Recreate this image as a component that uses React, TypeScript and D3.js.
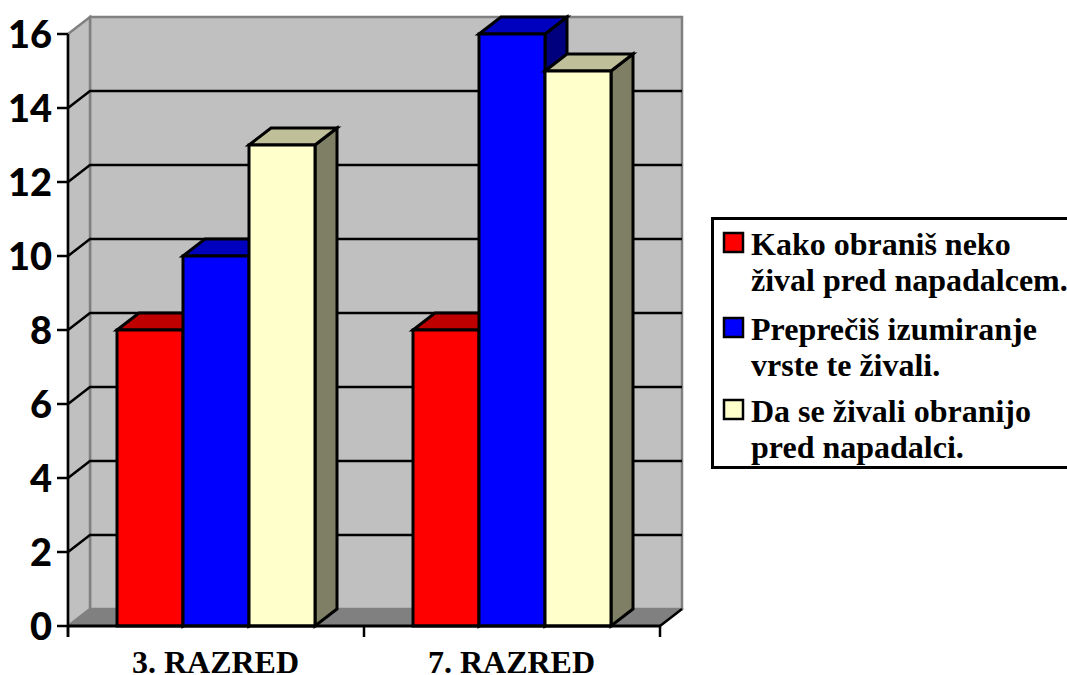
import React from "react";
import * as d3 from "d3";

const categories = ["3. RAZRED", "7. RAZRED"];
const seriesNames = ["A", "B", "C"];
const valuesA = [8, 8];
const valuesB = [10, 16];
const valuesC = [13, 15];
const yTicks = [0, 2, 4, 6, 8, 10, 12, 14, 16];
const frontColors = ["#ff0000", "#0000ff", "#ffffcc"];
const topColors = ["#bf0000", "#0000bf", "#bfbf99"];
const sideColors = ["#7f0000", "#00007f", "#7f7f66"];
const legendLines = [
  ["Kako obraniš neko", "žival pred napadalcem."],
  ["Preprečiš izumiranje", "vrste te živali."],
  ["Da se živali obranijo", "pred napadalci."],
];

const WIDTH = 1067;
const HEIGHT = 675;
const DX = 22;
const DY = -17;
const LEFT = 68;
const RIGHT = 660;
const BOTTOM = 626;
const TOP = 34;
const WALL = "#c0c0c0";
const FLOOR = "#808080";
const EDGE = "#808080";
const LEGEND_ROWS = [232, 317, 399];

const y = d3.scaleLinear().domain([0, 16]).range([BOTTOM, TOP]);
const x0 = d3.scaleBand<string>().domain(categories).range([LEFT, RIGHT]);
const x1 = d3.scaleBand<string>().domain(seriesNames).range([49, 247]);
const allValues = [valuesA, valuesB, valuesC];

const poly = (pts: [number, number][]) => (d3.line()(pts) ?? "") + "Z";

export default function App() {
  const serif = "'Liberation Serif', serif";
  return (
    <svg
      width={WIDTH}
      height={HEIGHT}
      viewBox={`0 0 ${WIDTH} ${HEIGHT}`}
      style={{ position: "absolute", left: 0, top: 0, background: "#fff" }}
    >
      {/* chart box: back wall, side wall and floor */}
      <rect x={LEFT + DX} y={TOP + DY} width={RIGHT - LEFT} height={BOTTOM - TOP} fill={WALL} stroke={EDGE} strokeWidth={2.5} />
      <path
        d={poly([[LEFT, TOP], [LEFT + DX, TOP + DY], [LEFT + DX, BOTTOM + DY], [LEFT, BOTTOM]])}
        fill={WALL}
        stroke={EDGE}
        strokeWidth={2.5}
      />
      <path
        d={poly([[LEFT, BOTTOM], [LEFT + DX, BOTTOM + DY], [RIGHT + DX, BOTTOM + DY], [RIGHT, BOTTOM]])}
        fill={FLOOR}
        stroke={EDGE}
        strokeWidth={1.5}
      />

      {/* gridlines wrapping the side wall and back wall */}
      {yTicks.slice(1, -1).map((t) => (
        <path
          key={t}
          d={d3.line()([[LEFT, y(t)], [LEFT + DX, y(t) + DY], [RIGHT + DX, y(t) + DY]]) ?? ""}
          fill="none"
          stroke="#000"
          strokeWidth={2.5}
        />
      ))}

      {/* floor's front-right edge */}
      <line x1={RIGHT} y1={BOTTOM} x2={RIGHT + DX} y2={BOTTOM + DY} stroke="#000" strokeWidth={2.5} />

      {/* 3D columns, left to right so each front hides its neighbour's side */}
      {categories.map((c, ci) =>
        seriesNames.map((s, si) => {
          const xa = x0(c)! + x1(s)!;
          const xb = xa + x1.bandwidth();
          const yt = y(allValues[si][ci]);
          return (
            <g key={c + s} stroke="#000" strokeWidth={3} strokeLinejoin="miter">
              <path d={poly([[xb, yt], [xb + DX, yt + DY], [xb + DX, BOTTOM + DY], [xb, BOTTOM]])} fill={sideColors[si]} />
              <path d={poly([[xa, yt], [xa + DX, yt + DY], [xb + DX, yt + DY], [xb, yt]])} fill={topColors[si]} />
              <rect x={xa} y={yt} width={xb - xa} height={BOTTOM - yt} fill={frontColors[si]} />
            </g>
          );
        })
      )}

      {/* value axis */}
      <line x1={LEFT} y1={TOP} x2={LEFT} y2={BOTTOM + 11} stroke="#000" strokeWidth={2.5} />
      {yTicks.map((t) => (
        <g key={t}>
          <line x1={LEFT - 11} y1={y(t)} x2={LEFT} y2={y(t)} stroke="#000" strokeWidth={2.5} />
          <text
            x={52}
            y={y(t) + 14}
            textAnchor="end"
            fontFamily="Lato, 'Open Sans', sans-serif"
            fontWeight={900}
            fontSize={38}
            fill="#000"
          >
            {t}
          </text>
        </g>
      ))}

      {/* category axis */}
      <line x1={LEFT} y1={BOTTOM} x2={RIGHT} y2={BOTTOM} stroke="#000" strokeWidth={3} />
      {[...categories.map((c) => x0(c)!), RIGHT].map((tx) => (
        <line key={tx} x1={tx} y1={BOTTOM} x2={tx} y2={BOTTOM + 11} stroke="#000" strokeWidth={2.5} />
      ))}
      {categories.map((c) => (
        <text
          key={c}
          x={x0(c)! + x0.bandwidth() / 2 - 0.5}
          y={673}
          textAnchor="middle"
          fontFamily={serif}
          fontWeight={700}
          fontSize={32}
          fill="#000"
        >
          {c}
        </text>
      ))}

      {/* legend */}
      <rect x={712.5} y={218.5} width={WIDTH} height={249} fill="#fff" stroke="#000" strokeWidth={3} />
      {legendLines.map((lines, i) => {
        const top = LEGEND_ROWS[i];
        return (
          <g key={i}>
            <rect x={724} y={top + 1} width={19} height={19} fill={frontColors[i]} stroke="#000" strokeWidth={2.5} />
            {lines.map((l, j) => (
              <text
                key={j}
                x={751}
                y={top + 23 + j * 36}
                fontFamily={serif}
                fontWeight={700}
                fontSize={32}
                fill="#000"
              >
                {l}
              </text>
            ))}
          </g>
        );
      })}
    </svg>
  );
}
